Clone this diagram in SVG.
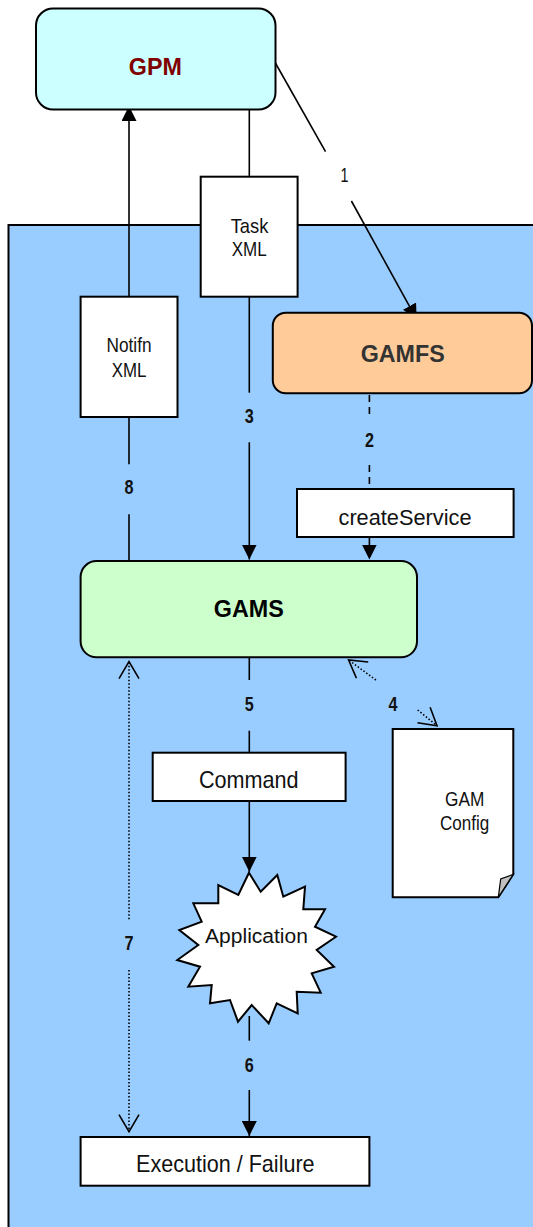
<svg xmlns="http://www.w3.org/2000/svg" width="533" height="1227" viewBox="0 0 533 1227">
<style>
.box{fill:#fff;stroke:#000;stroke-width:2}
.ln{fill:none;stroke:#000;stroke-width:1.6}
.dash{stroke-dasharray:7 5}
.dot{stroke-dasharray:1.5 2}
.t{font-family:"Liberation Sans Narrow","Liberation Sans",Arial,sans-serif;fill:#111;text-anchor:middle}
.b{font-family:"Liberation Sans",Arial,sans-serif;font-weight:bold;text-anchor:middle;font-size:23px}
.n{font-family:"Liberation Sans Narrow","Liberation Sans",Arial,sans-serif;font-weight:bold;font-size:20px;text-anchor:middle;fill:#111}
</style>
<defs>
<marker id="fa" viewBox="0 0 15 15" refX="15" refY="7.5" markerWidth="15" markerHeight="15" markerUnits="userSpaceOnUse" orient="auto"><path d="M0,0 L15,7.5 L0,15 Z" fill="#000"/></marker>
<marker id="oa" viewBox="0 0 20 22" refX="18" refY="11" markerWidth="20" markerHeight="22" markerUnits="userSpaceOnUse" orient="auto-start-reverse"><path d="M1,1 L18,11 L1,21" fill="none" stroke="#000" stroke-width="1.6"/></marker>
</defs>
<rect id="system" x="8.5" y="225" width="530" height="1010" fill="#99CCFF" stroke="#000" stroke-width="2"/>
<g id="connectors">
<line class="ln" x1="129" y1="297" x2="129" y2="106" marker-end="url(#fa)"/>
<line class="ln" x1="249.3" y1="105" x2="249.3" y2="177"/>
<line class="ln" x1="272" y1="57" x2="325.5" y2="151.7"/>
<line class="ln" x1="351.4" y1="201" x2="416.7" y2="319.3" marker-end="url(#fa)"/>
<line class="ln" x1="129" y1="417" x2="129" y2="464.3"/>
<line class="ln" x1="129" y1="514.3" x2="129" y2="561"/>
<line class="ln" x1="249.3" y1="297" x2="249.3" y2="392.7"/>
<line class="ln" x1="249.3" y1="442.3" x2="249.3" y2="559.5" marker-end="url(#fa)"/>
<line class="ln dash" x1="369.4" y1="395" x2="369.4" y2="418"/>
<line class="ln dash" x1="369.4" y1="465" x2="369.4" y2="489"/>
<line class="ln dash" x1="369.4" y1="538" x2="369.4" y2="559.5" marker-end="url(#fa)"/>
<line class="ln" x1="249.3" y1="658" x2="249.3" y2="680"/>
<line class="ln" x1="249.3" y1="730.7" x2="249.3" y2="753"/>
<line class="ln" x1="249.3" y1="801" x2="249.3" y2="871.7" marker-end="url(#fa)"/>
<line class="ln dot" x1="129" y1="919.3" x2="129" y2="661.7" marker-end="url(#oa)"/>
<line class="ln dot" x1="129" y1="970" x2="129" y2="1131.7" marker-end="url(#oa)"/>
<line class="ln dot" x1="375.9" y1="680" x2="348.6" y2="660" marker-end="url(#oa)"/>
<line class="ln dot" x1="417.7" y1="710" x2="437" y2="725.7" marker-end="url(#oa)"/>
<line class="ln" x1="249.3" y1="1016" x2="249.3" y2="1040.7"/>
<line class="ln" x1="249.3" y1="1090" x2="249.3" y2="1136" marker-end="url(#fa)"/>
<text class="t" x="344.5" y="181.7" font-size="20" textLength="8" lengthAdjust="spacingAndGlyphs">1</text>
<text class="n" x="249.3" y="422.7" textLength="9" lengthAdjust="spacingAndGlyphs">3</text>
<text class="n" x="369.4" y="446.7" textLength="9" lengthAdjust="spacingAndGlyphs">2</text>
<text class="n" x="129" y="494" textLength="9" lengthAdjust="spacingAndGlyphs">8</text>
<text class="n" x="249.3" y="710.7" textLength="9" lengthAdjust="spacingAndGlyphs">5</text>
<text class="n" x="392.9" y="710.7" textLength="9" lengthAdjust="spacingAndGlyphs">4</text>
<text class="n" x="129" y="950" textLength="9" lengthAdjust="spacingAndGlyphs">7</text>
<text class="n" x="249.3" y="1071.7" textLength="9" lengthAdjust="spacingAndGlyphs">6</text>
</g>
<g id="gpm">
<rect x="36" y="8.5" width="239.5" height="101" rx="17" fill="#CCFFFF" stroke="#000" stroke-width="2"/>
<text class="b" x="155.3" y="75" fill="#800000" textLength="53" lengthAdjust="spacingAndGlyphs">GPM</text>
</g>
<g id="task-xml">
<rect class="box" x="200.7" y="176.7" width="96.9" height="120"/>
<text class="t" x="249.5" y="232.7" font-size="21" textLength="37.7" lengthAdjust="spacingAndGlyphs">Task</text>
<text class="t" x="249.2" y="256" font-size="21" textLength="35" lengthAdjust="spacingAndGlyphs">XML</text>
</g>
<g id="notifn-xml">
<rect class="box" x="80.6" y="296.7" width="96.9" height="120.3"/>
<text class="t" x="129" y="351.7" font-size="21" textLength="45" lengthAdjust="spacingAndGlyphs">Notifn</text>
<text class="t" x="129" y="376.7" font-size="21" textLength="34.7" lengthAdjust="spacingAndGlyphs">XML</text>
</g>
<g id="gamfs">
<rect x="272.8" y="312.7" width="259.2" height="80.6" rx="13" fill="#FFCC99" stroke="#000" stroke-width="2"/>
<text class="b" x="402.7" y="361.7" fill="#333333" textLength="84" lengthAdjust="spacingAndGlyphs">GAMFS</text>
</g>
<g id="create-service">
<rect class="box" x="297" y="489" width="216.6" height="48"/>
<text class="t" x="405" y="524.5" font-size="22.5" textLength="133" lengthAdjust="spacingAndGlyphs">createService</text>
</g>
<g id="gams">
<rect x="80.6" y="561" width="336.4" height="96.3" rx="16" fill="#CCFFCC" stroke="#000" stroke-width="2"/>
<text class="b" x="248.8" y="617.3" fill="#000" textLength="70" lengthAdjust="spacingAndGlyphs">GAMS</text>
</g>
<g id="command">
<rect class="box" x="152.7" y="752.7" width="192.9" height="48.3"/>
<text class="t" x="248.8" y="788.3" font-size="24" textLength="99.7" lengthAdjust="spacingAndGlyphs">Command</text>
</g>
<g id="gam-config">
<path class="box" d="M392.7,729 L513.3,729 L513.3,874.3 L498.3,897.3 L392.7,897.3 Z"/>
<path d="M513.3,874.3 L500.7,879 L498.3,897.3 Z" fill="#C0C0C0" stroke="#000" stroke-width="1.2"/>
<text class="t" x="464.7" y="805.7" font-size="19.5" textLength="39.3" lengthAdjust="spacingAndGlyphs">GAM</text>
<text class="t" x="464.7" y="830" font-size="19.5" textLength="49.3" lengthAdjust="spacingAndGlyphs">Config</text>
</g>
<g id="application">
<polygon class="box" points="249,872.7 260.7,891.7 277.3,875 283.3,896.7 305,886.7 303.3,909.3 325,909.3 315,926.7 336,936.7 316.7,950 334,966.7 311.7,973.3 320.7,992.7 296.7,991.7 297.7,1013.3 276.7,1003.3 268.7,1023.3 251.7,1005 238,1021.7 230,1000 210,1003.3 211.7,985 188.3,986.7 200,966.7 177.3,960 198.3,945 179.3,930 201.7,921.7 193.3,903.3 218.3,903.3 218.3,885 238.3,895"/>
<text x="256.5" y="943.3" font-family="Liberation Sans,Arial,sans-serif" font-size="20" fill="#111" text-anchor="middle" textLength="102.8" lengthAdjust="spacingAndGlyphs">Application</text>
</g>
<g id="execution-failure">
<rect class="box" x="80.6" y="1137" width="288.8" height="48.7"/>
<text class="t" x="225.3" y="1171.7" font-size="24" textLength="178.6" lengthAdjust="spacingAndGlyphs">Execution / Failure</text>
</g>
</svg>
